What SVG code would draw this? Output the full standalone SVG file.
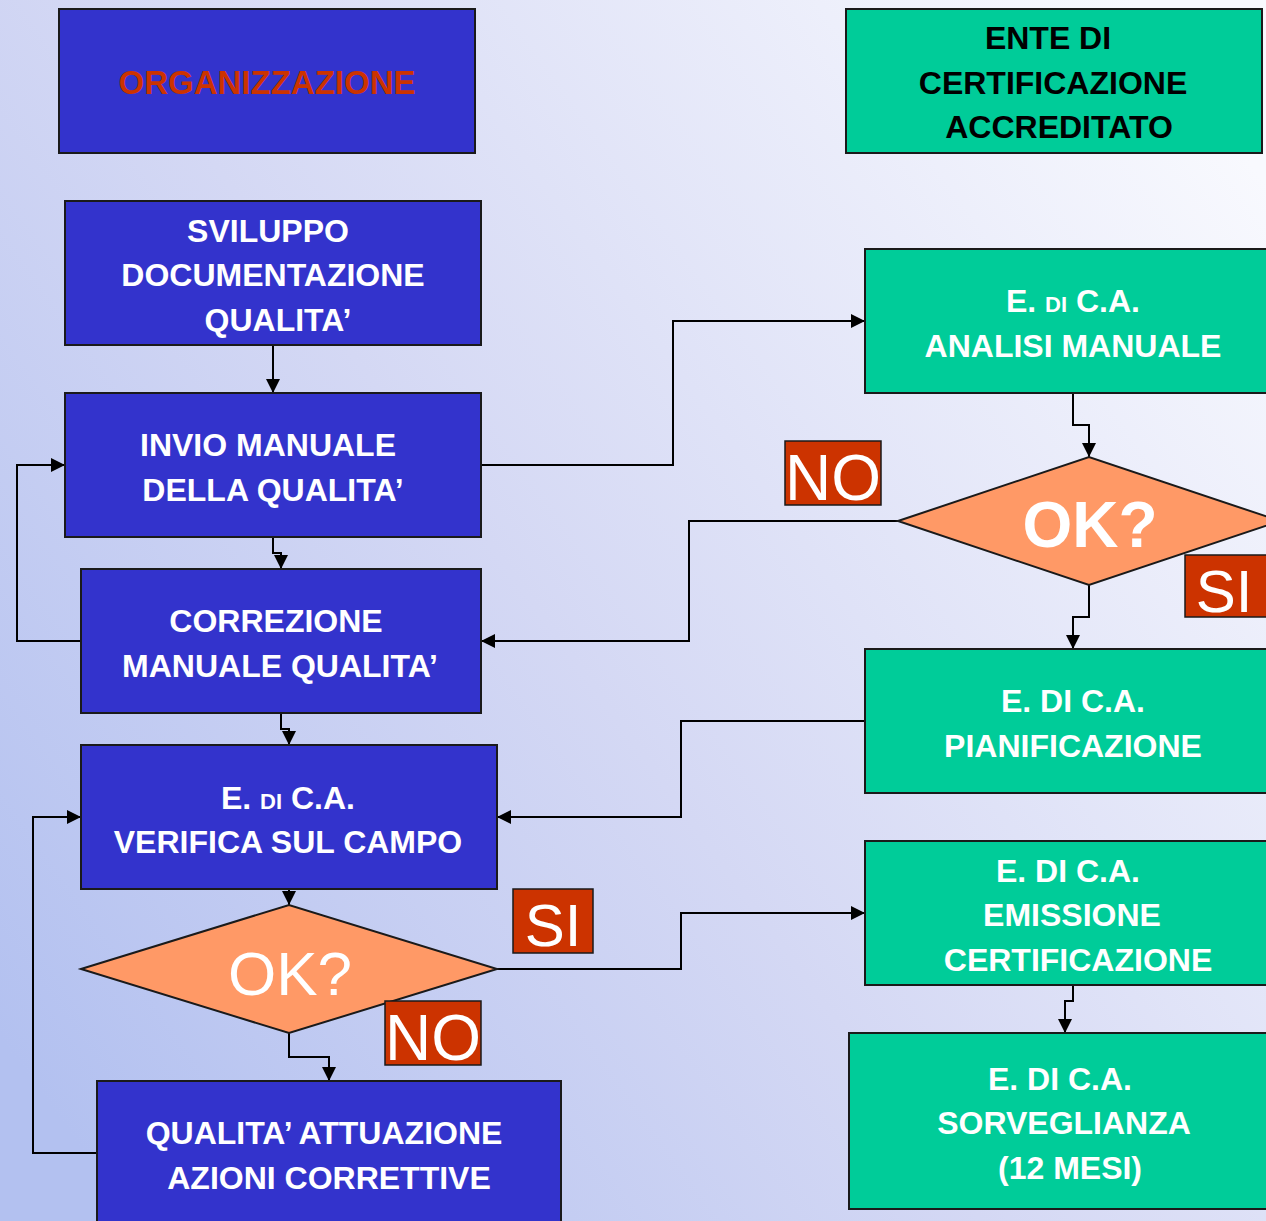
<svg xmlns="http://www.w3.org/2000/svg" width="1266" height="1221" viewBox="0 0 1266 1221">
<defs>
<linearGradient id="bg" x1="0" y1="0.85" x2="1" y2="0.15">
<stop offset="0" stop-color="#b3c1f0"/>
<stop offset="0.45" stop-color="#d4d8f4"/>
<stop offset="1" stop-color="#f8f9fe"/>
</linearGradient>
<marker id="arr" viewBox="0 0 14 14" refX="14" refY="7" markerWidth="14" markerHeight="14" markerUnits="userSpaceOnUse" orient="auto">
<path d="M0,0 L14,7 L0,14 Z" fill="#000"/>
</marker>
<style>
.blue{fill:#3333cc;stroke:#1a1a1a;stroke-width:2}
.green{fill:#00cc99;stroke:#1a1a1a;stroke-width:2}
.dia{fill:#ff9966;stroke:#1a1a1a;stroke-width:2}
.lab{fill:#cc3300;stroke:#1a1a1a;stroke-width:1.5}
.t{font-family:"Liberation Sans",Arial,sans-serif;font-weight:bold;font-size:32px;fill:#fff;text-anchor:middle}
.k{fill:#000}
.sm{font-size:22px}
.big{font-family:"Liberation Sans",Arial,sans-serif;fill:#fff;text-anchor:middle}
.c{fill:none;stroke:#000;stroke-width:2}
</style>
</defs>
<rect width="1266" height="1221" fill="url(#bg)"/>

<g id="connectors">
<path class="c" d="M273,345 V393" marker-end="url(#arr)"/>
<path class="c" d="M273,537 V553 H281 V569" marker-end="url(#arr)"/>
<path class="c" d="M281,713 V729 H289 V745" marker-end="url(#arr)"/>
<path class="c" d="M81,641 H17 V465 H65" marker-end="url(#arr)"/>
<path class="c" d="M481,465 H673 V321 H865" marker-end="url(#arr)"/>
<path class="c" d="M1073,393 V425 H1089 V457" marker-end="url(#arr)"/>
<path class="c" d="M898,521 H689 V641 H481" marker-end="url(#arr)"/>
<path class="c" d="M1089,585 V617 H1073 V649" marker-end="url(#arr)"/>
<path class="c" d="M865,721 H681 V817 H497" marker-end="url(#arr)"/>
<path class="c" d="M289,889 V905" marker-end="url(#arr)"/>
<path class="c" d="M497,969 H681 V913 H865" marker-end="url(#arr)"/>
<path class="c" d="M289,1033 V1057 H329 V1081" marker-end="url(#arr)"/>
<path class="c" d="M97,1153 H33 V817 H81" marker-end="url(#arr)"/>
<path class="c" d="M1073,985 V1001 H1065 V1033" marker-end="url(#arr)"/>
</g>

<g id="organizzazione">
<rect class="blue" x="59" y="9" width="416" height="144"/>
<text class="t" x="267" y="94" style="fill:#cc3300;font-size:33px">ORGANIZZAZIONE</text>
</g>

<g id="ente">
<rect class="green" x="846" y="9" width="416" height="144"/>
<text class="t k" x="1048" y="49">ENTE DI</text>
<text class="t k" x="1053" y="94">CERTIFICAZIONE</text>
<text class="t k" x="1059" y="138">ACCREDITATO</text>
</g>

<g id="sviluppo">
<rect class="blue" x="65" y="201" width="416" height="144"/>
<text class="t" x="268" y="242">SVILUPPO</text>
<text class="t" x="273" y="286">DOCUMENTAZIONE</text>
<text class="t" x="278" y="331">QUALITA’</text>
</g>

<g id="invio">
<rect class="blue" x="65" y="393" width="416" height="144"/>
<text class="t" x="268" y="456">INVIO MANUALE</text>
<text class="t" x="273" y="501">DELLA QUALITA’</text>
</g>

<g id="correzione">
<rect class="blue" x="81" y="569" width="400" height="144"/>
<text class="t" x="276" y="632">CORREZIONE</text>
<text class="t" x="280" y="677">MANUALE QUALITA’</text>
</g>

<g id="verifica">
<rect class="blue" x="81" y="745" width="416" height="144"/>
<text class="t" x="288" y="809">E. <tspan class="sm">DI</tspan> C.A.</text>
<text class="t" x="288" y="853">VERIFICA SUL CAMPO</text>
</g>

<g id="ok-lower">
<polygon class="dia" points="81,969 289,905 497,969 289,1033"/>
<text class="big" x="290" y="995" font-size="62">OK?</text>
</g>

<g id="qualita">
<rect class="blue" x="97" y="1081" width="464" height="150"/>
<text class="t" x="324" y="1144">QUALITA’ ATTUAZIONE</text>
<text class="t" x="329" y="1189">AZIONI CORRETTIVE</text>
</g>

<g id="analisi">
<rect class="green" x="865" y="249" width="410" height="144"/>
<text class="t" x="1073" y="312">E.  <tspan class="sm">DI</tspan> C.A.</text>
<text class="t" x="1073" y="357">ANALISI MANUALE</text>
</g>

<g id="ok-upper">
<polygon class="dia" points="898,521 1089,457 1280,521 1089,585"/>
<text class="big" x="1090" y="547" font-size="64" font-weight="bold">OK?</text>
</g>

<g id="pianificazione">
<rect class="green" x="865" y="649" width="410" height="144"/>
<text class="t" x="1073" y="712">E. DI C.A.</text>
<text class="t" x="1073" y="757">PIANIFICAZIONE</text>
</g>

<g id="emissione">
<rect class="green" x="865" y="841" width="410" height="144"/>
<text class="t" x="1068" y="882">E. DI C.A.</text>
<text class="t" x="1072" y="926">EMISSIONE</text>
<text class="t" x="1078" y="971">CERTIFICAZIONE</text>
</g>

<g id="sorveglianza">
<rect class="green" x="849" y="1033" width="426" height="176"/>
<text class="t" x="1060" y="1090">E. DI C.A.</text>
<text class="t" x="1064" y="1134">SORVEGLIANZA</text>
<text class="t" x="1070" y="1179">(12 MESI)</text>
</g>

<g id="labels">
<g id="no-upper">
<rect class="lab" x="785" y="441" width="96" height="64"/>
<text class="big" x="833" y="500" font-size="64">NO</text>
</g>
<g id="si-upper">
<rect class="lab" x="1185" y="555" width="85" height="62"/>
<text class="big" x="1224" y="612" font-size="60">SI</text>
</g>
<g id="si-lower">
<rect class="lab" x="513" y="889" width="80" height="64"/>
<text class="big" x="553" y="946" font-size="60">SI</text>
</g>
<g id="no-lower">
<rect class="lab" x="385" y="1001" width="96" height="64"/>
<text class="big" x="433" y="1060" font-size="64">NO</text>
</g>
</g>
</svg>
